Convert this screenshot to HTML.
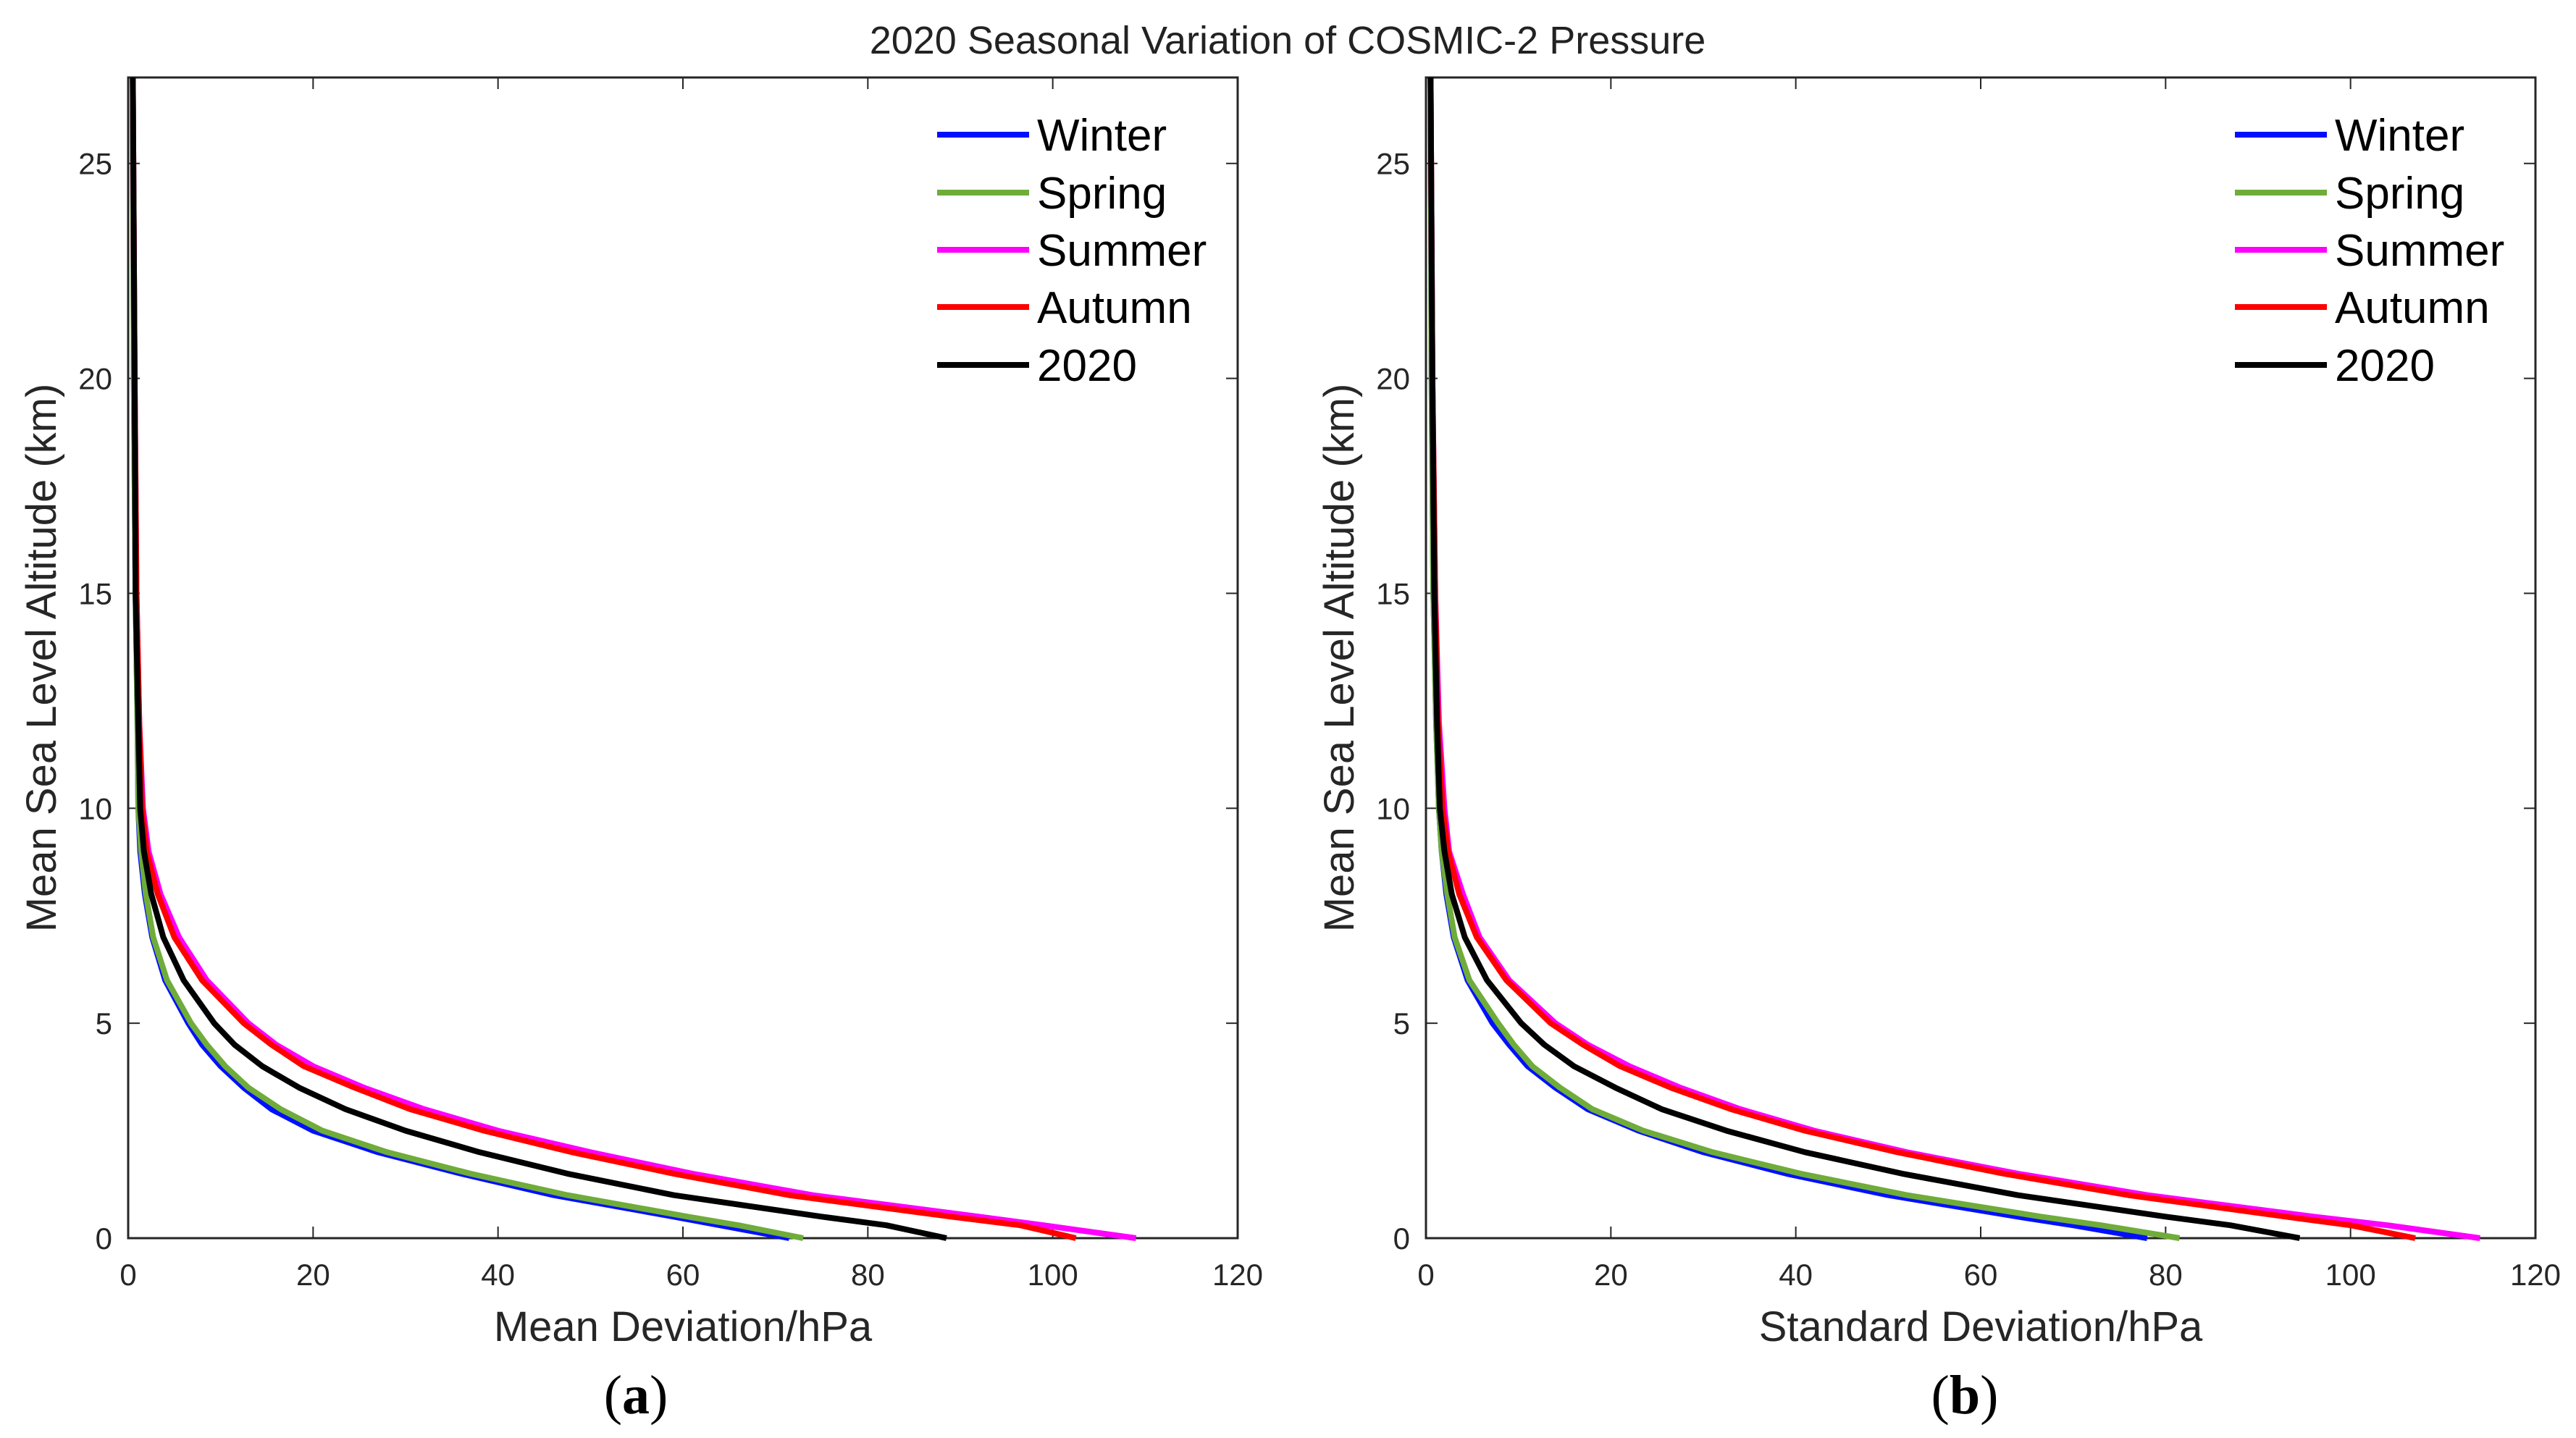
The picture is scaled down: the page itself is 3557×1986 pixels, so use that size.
<!DOCTYPE html>
<html><head><meta charset="utf-8"><style>
body{margin:0;background:#fff;}
svg{display:block;font-family:"Liberation Sans",Arial,sans-serif;}
</style></head><body>
<svg id="fig" width="3557" height="1986" viewBox="0 0 3557 1986">
<text x="1778" y="74" font-size="54" text-anchor="middle" fill="#222">2020 Seasonal Variation of COSMIC-2 Pressure</text>
</svg>
<script>
const altitudes = [0, 0.3, 0.5, 1, 1.5, 2, 2.5, 3, 3.5, 4, 4.5, 5, 6, 7, 8, 9, 10, 12, 15, 20, 27];
const xTicks = [0, 20, 40, 60, 80, 100, 120];
const yTicks = [0, 5, 10, 15, 20, 25];
const seriesNames = ["Winter", "Spring", "Summer", "Autumn", "2020"];
const seriesColors = ["#0010ff", "#6fac3a", "#ff00ff", "#ff0000", "#000000"];
// panel (a) mean deviation
const aWinter = [71.5, 64, 59, 46, 36, 27, 20, 15.5, 12.5, 10, 8, 6.5, 4, 2.6, 1.8, 1.3, 1.1, 1.0, 0.8, 0.6, 0.5];
const aSpring = [73, 66, 60.5, 47.5, 37, 28, 21, 16.5, 13, 10.5, 8.5, 6.8, 4.2, 2.7, 1.9, 1.4, 1.1, 1.0, 0.8, 0.6, 0.5];
const aSummer = [109, 99, 92, 74, 61, 50, 40, 32, 25.5, 20, 16, 13, 8.5, 5.5, 3.5, 2.2, 1.6, 1.2, 0.9, 0.7, 0.5];
const aAutumn = [102.5, 96.5, 89, 71.5, 59, 48, 38.5, 30.5, 24.5, 19, 15.5, 12.5, 8, 5, 3.2, 2, 1.5, 1.2, 0.9, 0.7, 0.5];
const a2020 = [88.5, 82, 75, 59, 47.5, 38, 30, 23.5, 18.5, 14.5, 11.5, 9.3, 6, 3.8, 2.5, 1.7, 1.3, 1.1, 0.8, 0.7, 0.5];
// panel (b) standard deviation
const bWinter = [78, 70, 64, 50, 39, 30, 23, 17.5, 14, 11, 9, 7.2, 4.5, 3, 2.2, 1.7, 1.4, 1.1, 0.8, 0.6, 0.5];
const bSpring = [81.5, 73, 66.5, 52, 40.5, 31, 23.5, 18, 14.5, 11.5, 9.5, 7.8, 4.7, 3.1, 2.3, 1.7, 1.4, 1.1, 0.8, 0.6, 0.5];
const bSummer = [114, 104, 96, 78, 64, 52, 42, 34, 27.5, 22, 17.5, 14, 9, 5.8, 4, 2.5, 2, 1.4, 1, 0.7, 0.5];
const bAutumn = [107, 100, 93, 76, 62.5, 51, 41, 33, 26.5, 21, 17, 13.5, 8.7, 5.5, 3.6, 2.4, 1.8, 1.3, 1, 0.7, 0.5];
const b2020 = [94.5, 87, 80, 64, 51.5, 41, 32.5, 25.5, 20.5, 16, 12.8, 10.3, 6.6, 4.2, 2.8, 2, 1.5, 1.2, 0.9, 0.7, 0.5];

const NS = "http://www.w3.org/2000/svg";
const svg = document.getElementById("fig");
function mk(tag, attrs, parent){const e=document.createElementNS(NS,tag);for(const k in attrs)e.setAttribute(k,attrs[k]);(parent||svg).appendChild(e);return e;}

function panel(x0, x1, series, xlabel, letter, key, labelX){
  const y0 = 107, y1 = 1710;
  const xs = v => x0 + (v/120)*(x1-x0);
  const ys = v => y1 - (v/27)*(y1-y0);
  const g = mk("g", {});
  
  
  const box = mk("rect", {x:x0, y:y0, width:x1-x0, height:y1-y0, fill:"none", stroke:"#262626", "stroke-width":3}, g);
  
  
  xTicks.forEach(t=>{
    const x = xs(t);
    mk("line",{x1:x,y1:y1,x2:x,y2:y1-16,stroke:"#262626","stroke-width":2},g);
    mk("line",{x1:x,y1:y0,x2:x,y2:y0+16,stroke:"#262626","stroke-width":2},g);
    const tl = mk("text",{x:x,y:1775,"font-size":42,"text-anchor":"middle",fill:"#262626"},g);
    tl.textContent = t;
    
    
  });
  yTicks.forEach(t=>{
    const y = ys(t);
    mk("line",{x1:x0,y1:y,x2:x0+16,y2:y,stroke:"#262626","stroke-width":2},g);
    mk("line",{x1:x1,y1:y,x2:x1-16,y2:y,stroke:"#262626","stroke-width":2},g);
    const tl = mk("text",{x:x0-22,y:y+15,"font-size":42,"text-anchor":"end",fill:"#262626"},g);
    tl.textContent = t;
    
    
  });
  series.forEach((vals,i)=>{
    const pts = vals.map((v,j)=>xs(v).toFixed(1)+","+ys(altitudes[j]).toFixed(1)).join(" ");
    const pl = mk("polyline",{points:pts,fill:"none",stroke:seriesColors[i],"stroke-width":8,"stroke-linejoin":"round"},g);
    
    
  });
  const ly = [186, 266, 345, 424, 504];
  seriesNames.forEach((n,i)=>{
    const lx = x0 + 1117;
    const ln = mk("line",{x1:lx,y1:ly[i],x2:lx+127,y2:ly[i],stroke:seriesColors[i],"stroke-width":8},g);
    
    
    const lt = mk("text",{x:lx+138,y:ly[i]+22,"font-size":62,fill:"#000"},g);
    lt.textContent = n;
    
    
  });
  const xt = mk("text",{x:(x0+x1)/2,y:1852,"font-size":58,"text-anchor":"middle",fill:"#262626"},g);
  xt.textContent = xlabel;
  
  
  const yt = mk("text",{x:0,y:0,"font-size":58,"text-anchor":"middle",fill:"#262626",transform:`translate(${x0-100},${(y0+y1)/2}) rotate(-90)`},g);
  yt.textContent = "Mean Sea Level Altitude (km)";
  
  
  const pl = mk("text",{x:labelX,y:1952,"font-size":76,"text-anchor":"middle","font-family":"Liberation Serif, serif",fill:"#000"},g);
  pl.innerHTML = '(<tspan font-weight="bold">'+letter+'</tspan>)';
  
  
}
panel(177, 1709, [aWinter,aSpring,aSummer,aAutumn,a2020], "Mean Deviation/hPa", "a", "a", 878);
panel(1969, 3501, [bWinter,bSpring,bSummer,bAutumn,b2020], "Standard Deviation/hPa", "b", "b", 2713);
</script>
</body></html>
